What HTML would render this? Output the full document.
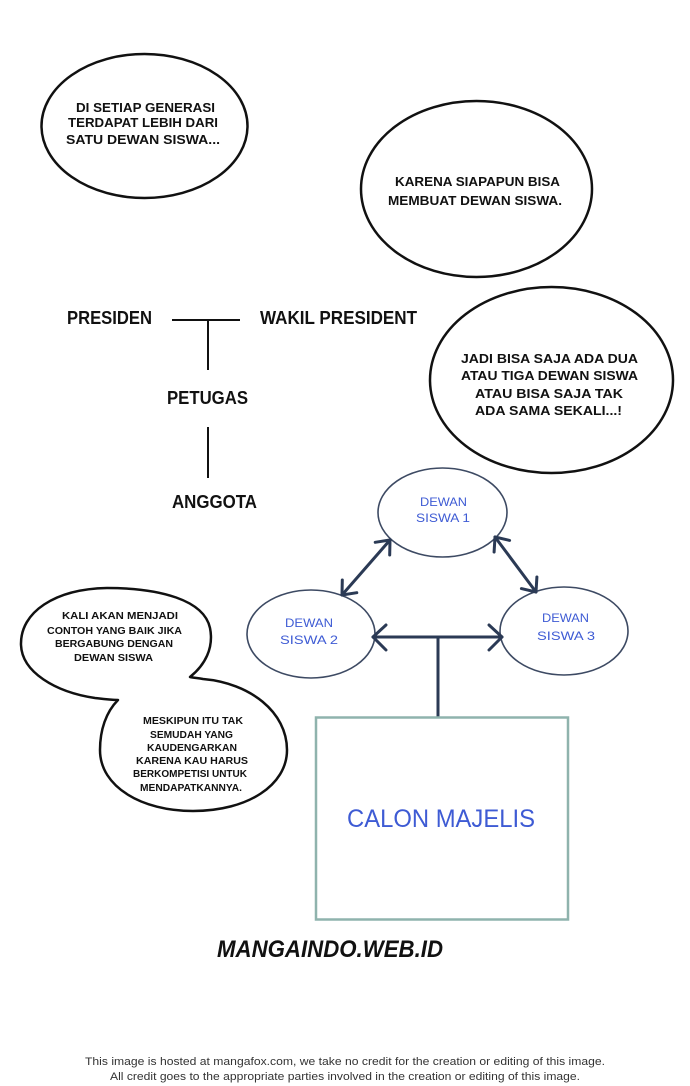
<!DOCTYPE html>
<html><head><meta charset="utf-8"><style>
html,body{margin:0;padding:0;background:#fff;}
svg{display:block;}
.b{font-family:"Liberation Sans",sans-serif;font-weight:bold;fill:#111;}
.o{font-family:"Liberation Sans",sans-serif;font-weight:bold;fill:#111;}
.u{font-family:"Liberation Sans",sans-serif;fill:#3e5bd4;}
.f{font-family:"Liberation Sans",sans-serif;fill:#333;font-size:11px;}
</style></head><body>
<svg width="690" height="1086" viewBox="0 0 690 1086" xmlns="http://www.w3.org/2000/svg">
<rect width="690" height="1086" fill="#fff"/>

<!-- Bubble 1 -->
<ellipse cx="144.5" cy="126" rx="103" ry="72" fill="#fff" stroke="#111" stroke-width="2.5"/>
<g class="b" font-size="13">
<text x="76" y="112" textLength="139" lengthAdjust="spacingAndGlyphs">DI SETIAP GENERASI</text>
<text x="68" y="127" textLength="150" lengthAdjust="spacingAndGlyphs">TERDAPAT LEBIH DARI</text>
<text x="66" y="144" textLength="154" lengthAdjust="spacingAndGlyphs">SATU DEWAN SISWA...</text>
</g>

<!-- Bubble 2 -->
<ellipse cx="476.5" cy="189" rx="115.5" ry="88" fill="#fff" stroke="#111" stroke-width="2.5"/>
<g class="b" font-size="13">
<text x="395" y="186" textLength="165" lengthAdjust="spacingAndGlyphs">KARENA SIAPAPUN BISA</text>
<text x="388" y="205" textLength="174" lengthAdjust="spacingAndGlyphs">MEMBUAT DEWAN SISWA.</text>
</g>

<!-- Bubble 3 -->
<ellipse cx="551.5" cy="380" rx="121.5" ry="93" fill="#fff" stroke="#111" stroke-width="2.5"/>
<g class="b" font-size="13">
<text x="461" y="363" textLength="177" lengthAdjust="spacingAndGlyphs">JADI BISA SAJA ADA DUA</text>
<text x="461" y="380" textLength="177" lengthAdjust="spacingAndGlyphs">ATAU TIGA DEWAN SISWA</text>
<text x="475" y="398" textLength="148" lengthAdjust="spacingAndGlyphs">ATAU BISA SAJA TAK</text>
<text x="475" y="415" textLength="147" lengthAdjust="spacingAndGlyphs">ADA SAMA SEKALI...!</text>
</g>

<!-- Org chart -->
<g class="o" font-size="18">
<text x="67" y="324" textLength="85" lengthAdjust="spacingAndGlyphs">PRESIDEN</text>
<text x="260" y="324" textLength="157" lengthAdjust="spacingAndGlyphs">WAKIL PRESIDENT</text>
<text x="167" y="404" textLength="81" lengthAdjust="spacingAndGlyphs">PETUGAS</text>
<text x="172" y="508" textLength="85" lengthAdjust="spacingAndGlyphs">ANGGOTA</text>
</g>
<g stroke="#111" stroke-width="2" fill="none">
<line x1="172" y1="320" x2="240" y2="320"/>
<line x1="208" y1="320" x2="208" y2="370"/>
<line x1="208" y1="427" x2="208" y2="478"/>
</g>

<!-- Dewan ellipses -->
<g fill="#fff" stroke="#3d4a63" stroke-width="1.6">
<ellipse cx="442.5" cy="512.5" rx="64.5" ry="44.5"/>
<ellipse cx="311" cy="634" rx="64" ry="44"/>
<ellipse cx="564" cy="631" rx="64" ry="44"/>
</g>
<g class="u" font-size="12">
<text x="420" y="506" textLength="47" lengthAdjust="spacingAndGlyphs">DEWAN</text>
<text x="416" y="522" textLength="54" lengthAdjust="spacingAndGlyphs">SISWA 1</text>
<text x="285" y="627" textLength="48" lengthAdjust="spacingAndGlyphs">DEWAN</text>
<text x="280" y="644" textLength="58" lengthAdjust="spacingAndGlyphs">SISWA 2</text>
<text x="542" y="622" textLength="47" lengthAdjust="spacingAndGlyphs">DEWAN</text>
<text x="537" y="640" textLength="58" lengthAdjust="spacingAndGlyphs">SISWA 3</text>
</g>

<!-- Arrows -->
<g stroke="#2b3a55" stroke-width="3" fill="none" stroke-linecap="round" stroke-linejoin="round">
<line x1="342" y1="595" x2="390" y2="540"/>
<polyline points="375.2,542.3 390,540 389.7,555"/>
<polyline points="356.8,592.7 342,595 342.3,580"/>
<line x1="495" y1="537" x2="536" y2="592"/>
<polyline points="536.9,577 536,592 521.4,588.6"/>
<polyline points="494.1,552 495,537 509.6,540.4"/>
<line x1="373" y1="637" x2="502" y2="637"/>
<polyline points="386,625 373,637 386,650"/>
<polyline points="489,625 502,637 489,650"/>
<line x1="438" y1="637" x2="438" y2="717" stroke-linecap="butt"/>
</g>

<!-- Box -->
<rect x="316" y="717.5" width="252" height="202" fill="#fff" stroke="#8fb3ad" stroke-width="2.5"/>
<text class="u" x="347" y="827" font-size="25" textLength="188" lengthAdjust="spacingAndGlyphs">CALON MAJELIS</text>

<!-- Bottom-left combined bubble -->
<path d="M190,677 C205,665 214,648 210,628 C204,600 160,588 107,588 C55,589 20,612 21,645 C22,672 55,692 95,698 C103,699 110,700 118,700 C106,712 100,730 100,750 C100,787 142,811 193,811 C248,811 287,785 287,750 C287,712 250,683 203,679 C198,678 194,678 190,677 Z" fill="#fff" stroke="#111" stroke-width="2.5" stroke-linejoin="round"/>
<g class="b" font-size="10">
<text x="62" y="619" textLength="116" lengthAdjust="spacingAndGlyphs">KALI AKAN MENJADI</text>
<text x="47" y="634" textLength="135" lengthAdjust="spacingAndGlyphs">CONTOH YANG BAIK JIKA</text>
<text x="55" y="647" textLength="118" lengthAdjust="spacingAndGlyphs">BERGABUNG DENGAN</text>
<text x="74" y="661" textLength="79" lengthAdjust="spacingAndGlyphs">DEWAN SISWA</text>
<text x="143" y="724" textLength="100" lengthAdjust="spacingAndGlyphs">MESKIPUN ITU TAK</text>
<text x="150" y="738" textLength="83" lengthAdjust="spacingAndGlyphs">SEMUDAH YANG</text>
<text x="147" y="751" textLength="90" lengthAdjust="spacingAndGlyphs">KAUDENGARKAN</text>
<text x="136" y="764" textLength="112" lengthAdjust="spacingAndGlyphs">KARENA KAU HARUS</text>
<text x="133" y="777" textLength="114" lengthAdjust="spacingAndGlyphs">BERKOMPETISI UNTUK</text>
<text x="140" y="791" textLength="102" lengthAdjust="spacingAndGlyphs">MENDAPATKANNYA.</text>
</g>

<!-- Watermark -->
<text class="b" x="217" y="957" font-size="24" font-style="italic" textLength="226" lengthAdjust="spacingAndGlyphs">MANGAINDO.WEB.ID</text>

<!-- Footer -->
<text class="f" x="345" y="1065" text-anchor="middle" textLength="520" lengthAdjust="spacingAndGlyphs">This image is hosted at mangafox.com, we take no credit for the creation or editing of this image.</text>
<text class="f" x="345" y="1080" text-anchor="middle" textLength="470" lengthAdjust="spacingAndGlyphs">All credit goes to the appropriate parties involved in the creation or editing of this image.</text>
</svg>
</body></html>
